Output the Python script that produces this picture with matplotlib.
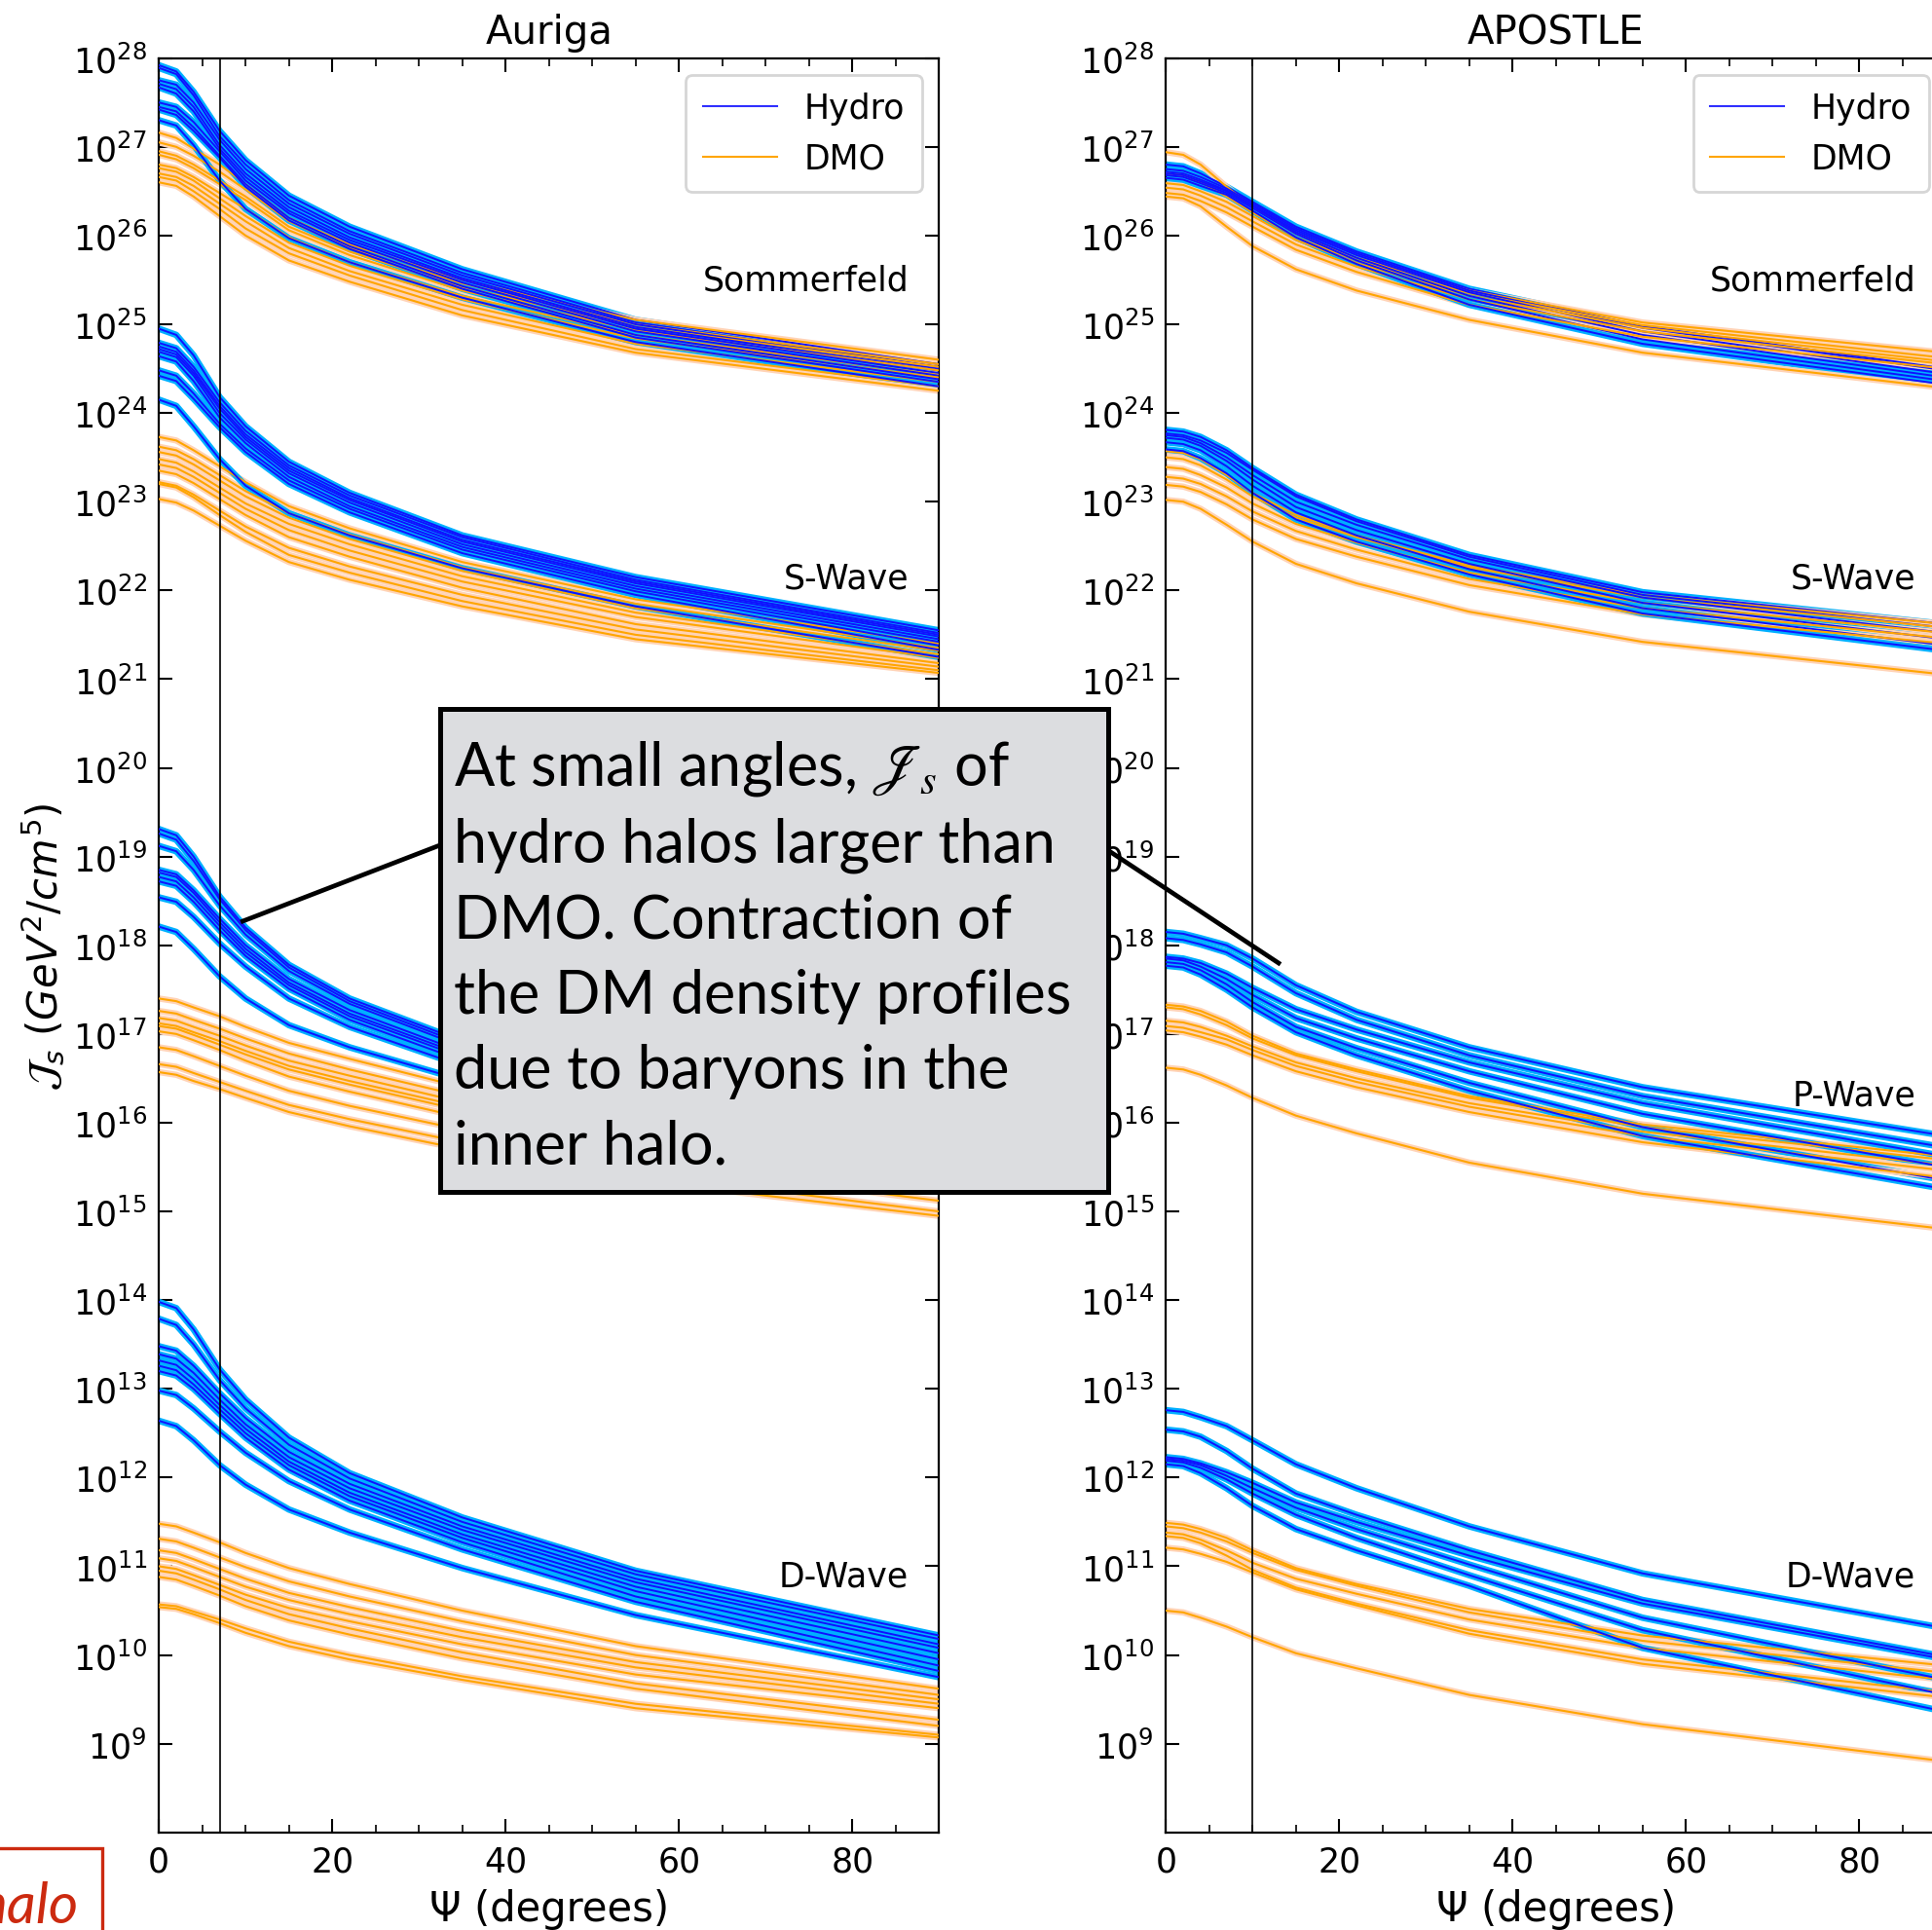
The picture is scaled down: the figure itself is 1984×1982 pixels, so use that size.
import matplotlib
matplotlib.use('Agg')
import matplotlib.pyplot as plt
import matplotlib.patches as mpatches
from matplotlib.lines import Line2D
from matplotlib.ticker import FixedLocator, MultipleLocator, NullLocator
import numpy as np

plt.rcParams['font.family'] = ['DejaVu Sans']
plt.rcParams['mathtext.fontset'] = 'dejavusans'

psi = [0, 2, 4, 7, 10, 15, 22, 35, 55, 90]

# ---- Auriga, log10 J_s ----
auriga_sommerfeld_hydro = [
    [27.92, 27.85, 27.62, 27.18, 26.85, 26.45, 26.10, 25.62, 25.05, 24.55],
    [27.89, 27.82, 27.58, 27.12, 26.80, 26.40, 26.05, 25.58, 25.02, 24.52],
    [27.75, 27.70, 27.50, 27.08, 26.75, 26.36, 26.02, 25.55, 25.00, 24.50],
    [27.71, 27.65, 27.45, 27.02, 26.70, 26.32, 25.98, 25.52, 24.97, 24.48],
    [27.67, 27.60, 27.40, 26.98, 26.66, 26.28, 25.95, 25.50, 24.95, 24.45],
    [27.50, 27.45, 27.28, 26.95, 26.62, 26.25, 25.92, 25.47, 24.92, 24.42],
    [27.45, 27.40, 27.22, 26.90, 26.58, 26.20, 25.88, 25.43, 24.88, 24.38],
    [27.42, 27.36, 27.18, 26.88, 26.55, 26.17, 25.85, 25.40, 24.85, 24.35],
    [27.30, 27.24, 27.02, 26.62, 26.30, 25.97, 25.70, 25.30, 24.80, 24.30],
]
auriga_sommerfeld_dmo = [
    [27.16, 27.10, 26.98, 26.80, 26.58, 26.20, 25.90, 25.50, 25.05, 24.60],
    [27.05, 27.00, 26.90, 26.72, 26.52, 26.16, 25.86, 25.46, 25.00, 24.55],
    [26.95, 26.90, 26.80, 26.62, 26.44, 26.10, 25.82, 25.42, 24.97, 24.52],
    [26.91, 26.86, 26.76, 26.58, 26.40, 26.06, 25.78, 25.38, 24.93, 24.48],
    [26.80, 26.76, 26.66, 26.48, 26.30, 25.98, 25.70, 25.32, 24.88, 24.43],
    [26.76, 26.72, 26.62, 26.42, 26.22, 25.92, 25.66, 25.28, 24.84, 24.40],
    [26.70, 26.66, 26.56, 26.36, 26.16, 25.86, 25.60, 25.22, 24.78, 24.35],
    [26.66, 26.62, 26.50, 26.30, 26.08, 25.80, 25.55, 25.16, 24.72, 24.30],
    [26.60, 26.56, 26.44, 26.22, 26.00, 25.72, 25.48, 25.10, 24.68, 24.25],
]
auriga_swave_hydro = [
    [24.95, 24.88, 24.65, 24.18, 23.85, 23.45, 23.10, 22.62, 22.15, 21.55],
    [24.79, 24.73, 24.52, 24.12, 23.80, 23.41, 23.07, 22.60, 22.12, 21.52],
    [24.75, 24.69, 24.48, 24.08, 23.76, 23.38, 23.04, 22.57, 22.10, 21.50],
    [24.72, 24.66, 24.45, 24.05, 23.73, 23.35, 23.02, 22.55, 22.08, 21.48],
    [24.69, 24.63, 24.42, 24.00, 23.70, 23.32, 22.99, 22.52, 22.05, 21.45],
    [24.64, 24.58, 24.36, 23.95, 23.66, 23.28, 22.95, 22.49, 22.02, 21.42],
    [24.48, 24.42, 24.22, 23.88, 23.60, 23.24, 22.92, 22.46, 21.99, 21.38],
    [24.42, 24.36, 24.16, 23.84, 23.56, 23.20, 22.88, 22.42, 21.95, 21.33],
    [24.15, 24.08, 23.85, 23.48, 23.18, 22.87, 22.62, 22.25, 21.82, 21.25],
]
auriga_swave_dmo = [
    [23.73, 23.69, 23.58, 23.40, 23.22, 22.95, 22.70, 22.32, 21.90, 21.40],
    [23.62, 23.58, 23.48, 23.30, 23.12, 22.87, 22.63, 22.26, 21.85, 21.35],
    [23.56, 23.52, 23.42, 23.24, 23.06, 22.82, 22.58, 22.22, 21.80, 21.32],
    [23.48, 23.44, 23.34, 23.16, 22.98, 22.75, 22.52, 22.16, 21.75, 21.28],
    [23.42, 23.38, 23.28, 23.10, 22.92, 22.68, 22.45, 22.10, 21.70, 21.24],
    [23.35, 23.31, 23.21, 23.03, 22.85, 22.60, 22.38, 22.03, 21.62, 21.18],
    [23.22, 23.18, 23.08, 22.90, 22.72, 22.48, 22.27, 21.95, 21.56, 21.14],
    [23.20, 23.16, 23.05, 22.85, 22.66, 22.40, 22.20, 21.88, 21.50, 21.10],
    [23.03, 22.99, 22.90, 22.73, 22.56, 22.32, 22.12, 21.82, 21.45, 21.07],
]
auriga_pwave_hydro = [
    [19.31, 19.24, 19.00, 18.55, 18.20, 17.78, 17.40, 16.92, 16.42, 15.85],
    [19.26, 19.19, 18.95, 18.52, 18.17, 17.75, 17.37, 16.89, 16.39, 15.82],
    [19.12, 19.06, 18.85, 18.45, 18.12, 17.71, 17.34, 16.86, 16.36, 15.80],
    [18.85, 18.80, 18.62, 18.30, 18.00, 17.62, 17.27, 16.80, 16.31, 15.76],
    [18.82, 18.77, 18.59, 18.26, 17.96, 17.58, 17.23, 16.77, 16.28, 15.73],
    [18.77, 18.72, 18.54, 18.22, 17.92, 17.55, 17.20, 16.74, 16.25, 15.70],
    [18.72, 18.67, 18.49, 18.17, 17.88, 17.51, 17.16, 16.70, 16.21, 15.66],
    [18.54, 18.49, 18.32, 18.02, 17.76, 17.40, 17.08, 16.64, 16.16, 15.62],
    [18.21, 18.15, 17.96, 17.65, 17.40, 17.10, 16.85, 16.48, 16.02, 15.50],
]
auriga_pwave_dmo = [
    [17.40, 17.37, 17.30, 17.20, 17.08, 16.90, 16.72, 16.40, 15.98, 15.50],
    [17.26, 17.23, 17.16, 17.06, 16.95, 16.78, 16.60, 16.30, 15.90, 15.42],
    [17.18, 17.15, 17.08, 16.98, 16.87, 16.70, 16.53, 16.23, 15.84, 15.38],
    [17.12, 17.09, 17.02, 16.92, 16.81, 16.64, 16.47, 16.18, 15.79, 15.33],
    [17.09, 17.06, 16.99, 16.88, 16.77, 16.60, 16.43, 16.14, 15.75, 15.29],
    [17.03, 17.00, 16.93, 16.82, 16.70, 16.52, 16.35, 16.06, 15.68, 15.22],
    [16.85, 16.82, 16.75, 16.64, 16.53, 16.36, 16.19, 15.92, 15.55, 15.12],
    [16.66, 16.63, 16.56, 16.46, 16.36, 16.20, 16.04, 15.78, 15.42, 15.00],
    [16.57, 16.54, 16.47, 16.38, 16.28, 16.12, 15.96, 15.70, 15.35, 14.95],
]
auriga_dwave_hydro = [
    [13.98, 13.91, 13.67, 13.22, 12.88, 12.45, 12.05, 11.55, 10.95, 10.22],
    [13.79, 13.72, 13.50, 13.10, 12.78, 12.37, 11.99, 11.50, 10.91, 10.18],
    [13.48, 13.43, 13.26, 12.95, 12.67, 12.29, 11.93, 11.45, 10.86, 10.12],
    [13.39, 13.34, 13.18, 12.88, 12.60, 12.23, 11.88, 11.41, 10.82, 10.08],
    [13.32, 13.27, 13.11, 12.82, 12.55, 12.18, 11.83, 11.36, 10.77, 10.02],
    [13.26, 13.21, 13.05, 12.77, 12.50, 12.14, 11.79, 11.32, 10.72, 9.95],
    [13.20, 13.15, 13.00, 12.72, 12.45, 12.09, 11.74, 11.27, 10.66, 9.88],
    [12.98, 12.93, 12.78, 12.52, 12.28, 11.96, 11.64, 11.19, 10.60, 9.82],
    [12.64, 12.58, 12.42, 12.14, 11.92, 11.64, 11.38, 10.98, 10.45, 9.75],
]
auriga_dwave_dmo = [
    [11.48, 11.45, 11.38, 11.27, 11.15, 10.98, 10.80, 10.50, 10.10, 9.62],
    [11.31, 11.28, 11.21, 11.10, 10.99, 10.83, 10.66, 10.38, 10.00, 9.55],
    [11.18, 11.15, 11.08, 10.97, 10.86, 10.70, 10.54, 10.27, 9.92, 9.50],
    [11.09, 11.06, 10.99, 10.88, 10.77, 10.62, 10.46, 10.20, 9.86, 9.45],
    [11.00, 10.97, 10.90, 10.79, 10.68, 10.53, 10.38, 10.12, 9.78, 9.40],
    [10.95, 10.92, 10.85, 10.74, 10.62, 10.46, 10.30, 10.03, 9.68, 9.27],
    [10.88, 10.85, 10.78, 10.67, 10.55, 10.39, 10.23, 9.96, 9.62, 9.20],
    [10.57, 10.55, 10.49, 10.40, 10.30, 10.15, 10.00, 9.76, 9.45, 9.10],
    [10.54, 10.52, 10.46, 10.36, 10.25, 10.10, 9.95, 9.72, 9.40, 9.07],
]

# ---- APOSTLE, log10 J_s ----
apostle_sommerfeld_hydro = [
    [26.80, 26.78, 26.70, 26.55, 26.38, 26.10, 25.82, 25.40, 24.98, 24.50],
    [26.75, 26.73, 26.66, 26.53, 26.36, 26.08, 25.80, 25.38, 24.96, 24.48],
    [26.72, 26.70, 26.63, 26.51, 26.34, 26.06, 25.78, 25.36, 24.92, 24.44],
    [26.70, 26.68, 26.61, 26.50, 26.33, 26.04, 25.75, 25.32, 24.88, 24.40],
    [26.68, 26.66, 26.59, 26.48, 26.31, 26.02, 25.72, 25.28, 24.83, 24.36],
    [26.65, 26.63, 26.56, 26.46, 26.28, 25.98, 25.68, 25.22, 24.78, 24.32],
]
apostle_sommerfeld_dmo = [
    [26.94, 26.91, 26.80, 26.55, 26.32, 26.02, 25.75, 25.38, 25.02, 24.68],
    [26.70, 26.68, 26.60, 26.44, 26.26, 25.98, 25.72, 25.35, 24.99, 24.62],
    [26.59, 26.57, 26.50, 26.38, 26.22, 25.95, 25.69, 25.32, 24.96, 24.58],
    [26.54, 26.52, 26.45, 26.32, 26.16, 25.90, 25.65, 25.28, 24.92, 24.55],
    [26.48, 26.46, 26.39, 26.26, 26.10, 25.84, 25.59, 25.22, 24.86, 24.50],
    [26.44, 26.42, 26.33, 26.10, 25.88, 25.62, 25.38, 25.05, 24.68, 24.28],
]
apostle_swave_hydro = [
    [23.81, 23.79, 23.73, 23.58, 23.38, 23.08, 22.80, 22.40, 21.98, 21.62],
    [23.77, 23.75, 23.69, 23.55, 23.36, 23.06, 22.78, 22.38, 21.95, 21.58],
    [23.75, 23.73, 23.66, 23.50, 23.30, 23.00, 22.74, 22.35, 21.92, 21.52],
    [23.72, 23.70, 23.63, 23.46, 23.25, 22.94, 22.68, 22.30, 21.86, 21.45],
    [23.67, 23.65, 23.58, 23.40, 23.18, 22.88, 22.62, 22.24, 21.80, 21.38],
    [23.59, 23.57, 23.49, 23.32, 23.10, 22.80, 22.55, 22.18, 21.74, 21.32],
]
apostle_swave_dmo = [
    [23.57, 23.55, 23.48, 23.30, 23.10, 22.85, 22.62, 22.28, 21.95, 21.62],
    [23.50, 23.48, 23.41, 23.25, 23.06, 22.82, 22.60, 22.26, 21.92, 21.58],
    [23.39, 23.37, 23.30, 23.16, 22.98, 22.75, 22.54, 22.20, 21.86, 21.52],
    [23.28, 23.26, 23.20, 23.06, 22.89, 22.67, 22.46, 22.13, 21.80, 21.46],
    [23.19, 23.17, 23.11, 22.97, 22.80, 22.58, 22.38, 22.06, 21.73, 21.40],
    [23.02, 23.00, 22.92, 22.74, 22.55, 22.30, 22.08, 21.76, 21.42, 21.05],
]
apostle_pwave_hydro = [
    [18.15, 18.13, 18.08, 18.00, 17.85, 17.55, 17.25, 16.85, 16.40, 15.85],
    [18.08, 18.06, 18.01, 17.92, 17.76, 17.46, 17.16, 16.76, 16.30, 15.72],
    [17.87, 17.85, 17.80, 17.68, 17.52, 17.28, 17.05, 16.68, 16.22, 15.62],
    [17.85, 17.83, 17.76, 17.62, 17.44, 17.18, 16.95, 16.58, 16.10, 15.50],
    [17.81, 17.79, 17.72, 17.56, 17.36, 17.08, 16.84, 16.45, 15.95, 15.35],
    [17.77, 17.75, 17.67, 17.50, 17.30, 17.02, 16.76, 16.36, 15.85, 15.25],
]
apostle_pwave_dmo = [
    [17.33, 17.31, 17.26, 17.14, 16.98, 16.78, 16.60, 16.30, 15.98, 15.62],
    [17.30, 17.28, 17.22, 17.10, 16.95, 16.76, 16.58, 16.28, 15.95, 15.58],
    [17.15, 17.13, 17.08, 16.98, 16.86, 16.68, 16.50, 16.22, 15.90, 15.52],
    [17.09, 17.07, 17.02, 16.94, 16.82, 16.64, 16.46, 16.18, 15.85, 15.46],
    [17.04, 17.02, 16.97, 16.88, 16.76, 16.58, 16.40, 16.12, 15.78, 15.38],
    [16.62, 16.60, 16.54, 16.42, 16.28, 16.08, 15.88, 15.55, 15.20, 14.80],
]
apostle_dwave_hydro = [
    [12.76, 12.74, 12.68, 12.58, 12.42, 12.15, 11.88, 11.45, 10.92, 10.30],
    [12.54, 12.52, 12.46, 12.30, 12.10, 11.82, 11.58, 11.18, 10.62, 9.98],
    [12.23, 12.21, 12.16, 12.06, 11.94, 11.72, 11.50, 11.12, 10.58, 9.95],
    [12.21, 12.19, 12.14, 12.02, 11.88, 11.66, 11.42, 11.02, 10.42, 9.72],
    [12.19, 12.17, 12.11, 11.98, 11.82, 11.58, 11.32, 10.90, 10.28, 9.55],
    [12.15, 12.13, 12.05, 11.88, 11.68, 11.42, 11.18, 10.78, 10.08, 9.36],
]
apostle_dwave_dmo = [
    [11.49, 11.47, 11.42, 11.32, 11.18, 10.98, 10.80, 10.52, 10.22, 9.88],
    [11.45, 11.43, 11.38, 11.28, 11.15, 10.96, 10.78, 10.48, 10.16, 9.80],
    [11.38, 11.36, 11.30, 11.18, 11.04, 10.86, 10.69, 10.40, 10.08, 9.72],
    [11.34, 11.32, 11.26, 11.12, 10.96, 10.76, 10.58, 10.28, 9.95, 9.58],
    [11.21, 11.19, 11.14, 11.05, 10.93, 10.74, 10.56, 10.24, 9.90, 9.52],
    [10.50, 10.48, 10.42, 10.32, 10.20, 10.02, 9.85, 9.55, 9.22, 8.80],
]

group_names = ['Sommerfeld', 'S-Wave', 'P-Wave', 'D-Wave']
label_logy = [25.5, 22.14, 16.31, 10.89]

auriga_groups = [
    (auriga_sommerfeld_hydro, auriga_sommerfeld_dmo),
    (auriga_swave_hydro, auriga_swave_dmo),
    (auriga_pwave_hydro, auriga_pwave_dmo),
    (auriga_dwave_hydro, auriga_dwave_dmo),
]
apostle_groups = [
    (apostle_sommerfeld_hydro, apostle_sommerfeld_dmo),
    (apostle_swave_hydro, apostle_swave_dmo),
    (apostle_pwave_hydro, apostle_pwave_dmo),
    (apostle_dwave_hydro, apostle_dwave_dmo),
]

FS = 25


def draw_panel(ax, groups, title, psi_cut, show_pwave_label):
    for hydro, dmo in groups:
        for i in range(max(len(hydro), len(dmo))):
            if i < len(hydro):
                y = 10.0 ** np.array(hydro[i])
                ax.plot(psi, y, color='#00b0ff', lw=4.8, solid_joinstyle='round', zorder=2)
                ax.plot(psi, y, color='#1010ff', lw=1.4, solid_joinstyle='round', zorder=3)
            if i < len(dmo):
                y = 10.0 ** np.array(dmo[i])
                ax.plot(psi, y, color='#ffd3b6', lw=4.6, solid_joinstyle='round', zorder=2)
                ax.plot(psi, y, color='#ffa500', lw=1.5, solid_joinstyle='round', zorder=3)

    ax.axvline(psi_cut, color='black', lw=1.2, zorder=4)

    for k, name in enumerate(group_names):
        if name == 'P-Wave' and not show_pwave_label:
            continue  # hidden behind the callout on the left panel
        ax.text(86.5, 10 ** label_logy[k], name, ha='right', va='center', fontsize=FS)

    ax.set_yscale('log')
    ax.set_xlim(0, 90)
    ax.set_ylim(1e8, 1e28)
    ax.yaxis.set_major_locator(FixedLocator([10.0 ** k for k in range(9, 29)]))
    ax.yaxis.set_minor_locator(NullLocator())
    ax.xaxis.set_major_locator(MultipleLocator(20))
    ax.xaxis.set_minor_locator(MultipleLocator(5))
    ax.tick_params(which='both', direction='in', top=True, right=True, labelsize=FS)
    ax.tick_params(which='major', length=10, width=1.5, pad=9)
    ax.tick_params(which='minor', length=6, width=1.2)
    for s in ax.spines.values():
        s.set_linewidth(1.6)
    ax.set_xlabel('Ψ (degrees)', fontsize=30, labelpad=8)
    ax.set_title(title, fontsize=29, pad=11)

    handles = [Line2D([0], [0], color='#3030ff', lw=1.5), Line2D([0], [0], color='#ffa500', lw=1.5)]
    leg = ax.legend(handles, ['Hydro', 'DMO'], loc='upper right', fontsize=FS, fancybox=True,
                    borderaxespad=0.5, handlelength=2.2, labelspacing=0.5, borderpad=0.5)
    leg.get_frame().set_edgecolor('#cccccc')
    leg.get_frame().set_linewidth(2)


W, H = 1984, 1983
fig = plt.figure(figsize=(W / 100, H / 100), dpi=100)

ax1 = fig.add_axes([163.2 / W, 1 - 1882.8 / H, 801 / W, 1822.1 / H])
ax2 = fig.add_axes([1197.3 / W, 1 - 1882.8 / H, 801 / W, 1822.1 / H])
draw_panel(ax1, auriga_groups, 'Auriga', 7.0, False)
draw_panel(ax2, apostle_groups, 'APOSTLE', 10.0, True)
ax1.set_ylabel(r'$\mathcal{J}_s\ (GeV^2/cm^5)$', fontsize=30, labelpad=5)


def px(x, y):
    # slide pixel -> figure fraction
    return x / W, 1 - y / H


# callout box from the slide
fig.add_artist(Line2D(*zip(px(451.7, 869.0), px(249.3, 947.0)), transform=fig.transFigure,
                      color='black', lw=3.4, zorder=9))
fig.add_artist(Line2D(*zip(px(1137.5, 874.0), px(1313.0, 990.0)), transform=fig.transFigure,
                      color='black', lw=3.4, zorder=9))
x0, y1 = px(451.7, 728.8)
x1, y0 = px(1137.5, 1224.8)
fig.add_artist(mpatches.Rectangle((x0, y0), x1 - x0, y1 - y0, transform=fig.transFigure,
                                  facecolor='#dcdde0', edgecolor='black', lw=3.6, zorder=10))
box_lines = [r'At small angles, $\mathscr{J}_s$ of', 'hydro halos larger than',
             'DMO. Contraction of', 'the DM density profiles', 'due to baryons in the',
             'inner halo.']
baselines = [807, 886, 964, 1041, 1118, 1196]
for line, yb in zip(box_lines, baselines):
    fig.text(*px(466, yb), line, fontsize=44, family='Lato', va='baseline', ha='left',
             math_fontfamily='stix', zorder=11)

# red framed word cut at the slide edge
fig.add_artist(mpatches.Rectangle(px(-60, 2040), 165 / W, 141 / H, transform=fig.transFigure,
                                  facecolor='none', edgecolor='#cc2a10', lw=2.4, zorder=10))
fig.text(*px(80, 1975), 'halo', fontsize=42, family='Lato', style='italic', color='#cc2a10',
         ha='right', va='baseline', zorder=11)

fig.savefig('out.png', dpi=100)
